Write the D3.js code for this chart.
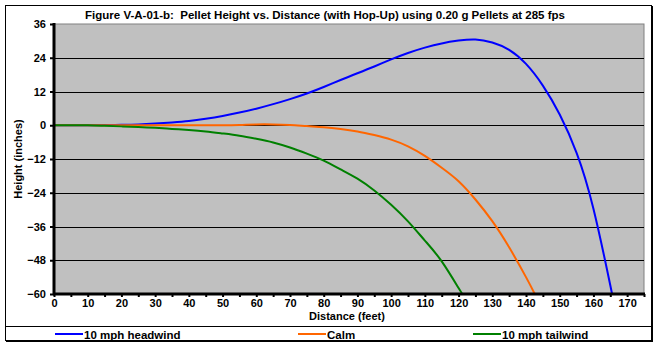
<!DOCTYPE html>
<html><head><meta charset="utf-8">
<script src="https://cdn.jsdelivr.net/npm/d3@7"></script>
<style>
html,body{margin:0;padding:0;background:#fff;}
svg{display:block;}
text{font-family:"Liberation Sans",Arial,sans-serif;font-weight:bold;fill:#000;white-space:pre;}
</style></head>
<body>
<script>
const title = "Figure V-A-01-b:  Pellet Height vs. Distance (with Hop-Up) using 0.20 g Pellets at 285 fps";
const xLabel = "Distance (feet)";
const yLabel = "Height (inches)";
const seriesNames = ["10 mph headwind", "Calm", "10 mph tailwind"];
const seriesColors = ["#0000FF", "#FF6600", "#008000"];
const xTicks = [0,10,20,30,40,50,60,70,80,90,100,110,120,130,140,150,160,170];
const yTicks = [-60,-48,-36,-24,-12,0,12,24,36];

const headwindDist   = [0,5,10,15,20,25,30,35,40,45,50,55,60,65,70,75,80,85,90,95,100,105,110,115,120,125,130,135,140,145,150,155,160,165,165.5];
const headwindHeight = [0,0,0,0.05,0.15,0.3,0.6,1.0,1.5,2.3,3.3,4.5,5.9,7.5,9.3,11.3,13.6,16.1,18.5,20.9,23.4,25.7,27.6,29.1,30.1,30.5,29.4,26.8,21.8,14.1,3.8,-9.8,-29.7,-56.9,-60];

const calmDist   = [0,5,10,15,20,25,30,35,40,45,50,55,60,65,70,75,80,85,90,95,100,105,110,115,120,125,130,135,140,142.6];
const calmHeight = [0,0,0,0,0,0,0,0,0,0,0,0.1,0.3,0.3,0.1,-0.3,-0.7,-1.3,-2.2,-3.5,-5.1,-7.5,-10.9,-15.1,-19.9,-26.4,-34.1,-43.4,-54.0,-60];

const tailwindDist   = [0,5,10,15,20,25,30,35,40,45,50,55,60,65,70,75,80,85,90,95,100,105,110,115,120,121.1];
const tailwindHeight = [0,0,0,-0.2,-0.4,-0.6,-0.9,-1.3,-1.7,-2.2,-2.9,-3.7,-4.8,-6.1,-7.9,-10.1,-12.6,-15.7,-19.0,-23.2,-28.3,-34.2,-41.0,-48.4,-57.9,-60];

const W = 659, H = 345;
const svg = d3.select("body").append("svg").attr("width", W).attr("height", H);

// outer frame
svg.append("rect").attr("x",5.5).attr("y",5.5).attr("width",646).attr("height",335)
  .attr("fill","#fff").attr("stroke","#000").attr("stroke-width",1);
svg.append("line").attr("x1",652.5).attr("x2",652.5).attr("y1",6).attr("y2",342).attr("stroke","#000").attr("stroke-width",1);
svg.append("line").attr("x1",6).attr("x2",653).attr("y1",341.5).attr("y2",341.5).attr("stroke","#000").attr("stroke-width",1);

const plot = {l:54, r:644, t:24, b:294};
const x = d3.scaleLinear().domain([0,175]).range([plot.l, plot.r]);
const y = d3.scaleLinear().domain([-60,36]).range([plot.b, plot.t]);

// plot background
svg.append("rect").attr("x",plot.l).attr("y",plot.t).attr("width",plot.r-plot.l).attr("height",plot.b-plot.t)
  .attr("fill","#C0C0C0").attr("stroke","#808080").attr("stroke-width",1);

// gridlines
svg.append("g").selectAll("line").data(yTicks.filter(v=>v>-60 && v<36)).join("line")
  .attr("x1",plot.l).attr("x2",plot.r)
  .attr("y1",d=>Math.round(y(d))+0.5).attr("y2",d=>Math.round(y(d))+0.5)
  .attr("stroke","#000").attr("stroke-width",1);

// series
const series = [
  {dist:headwindDist, h:headwindHeight},
  {dist:calmDist, h:calmHeight},
  {dist:tailwindDist, h:tailwindHeight}
];
const line = d3.line().x(d=>x(d[0])).y(d=>y(d[1])).curve(d3.curveNatural);
svg.append("clipPath").attr("id","pc").append("rect")
  .attr("x",plot.l).attr("y",plot.t).attr("width",plot.r-plot.l).attr("height",plot.b-plot.t+1);
series.forEach((s,i)=>{
  const pts = s.dist.map((d,j)=>[d, s.h[j]]);
  svg.append("path").datum(pts).attr("d",line).attr("fill","none")
    .attr("stroke",seriesColors[i]).attr("stroke-width",2).attr("clip-path","url(#pc)");
});

// axes
const xAxis = d3.axisBottom(x).tickValues(d3.range(0,176,5)).tickSize(3)
  .tickFormat(d=> xTicks.includes(d) ? d : "");
const gx = svg.append("g").attr("transform",`translate(0,${plot.b})`).call(xAxis);
gx.select(".domain").remove();
gx.selectAll(".tick line").attr("stroke","#000").attr("stroke-width",2);
gx.selectAll(".tick text").attr("font-size",11).attr("dy","0.95em").attr("y",3)
  .style("font-family","'Liberation Sans',Arial,sans-serif").style("font-weight","bold");
svg.append("line").attr("x1",plot.l-1).attr("x2",plot.r+1).attr("y1",plot.b).attr("y2",plot.b)
  .attr("stroke","#000").attr("stroke-width",3);

const yAxis = d3.axisLeft(y).tickValues(yTicks).tickSize(4).tickPadding(4);
const gy = svg.append("g").attr("transform",`translate(${plot.l},0)`).call(yAxis);
gy.select(".domain").remove();
gy.selectAll(".tick line").attr("stroke","#000").attr("stroke-width",2);
gy.selectAll(".tick text").attr("font-size",11)
  .style("font-family","'Liberation Sans',Arial,sans-serif").style("font-weight","bold");
svg.append("line").attr("x1",plot.l).attr("x2",plot.l).attr("y1",plot.t-1).attr("y2",plot.b+1)
  .attr("stroke","#000").attr("stroke-width",3);

// titles
svg.append("text").attr("x",325).attr("y",19).attr("text-anchor","middle").attr("font-size",11.5).text(title);
svg.append("text").attr("x",347).attr("y",320).attr("text-anchor","middle").attr("font-size",11).text(xLabel);
svg.append("text").attr("transform",`translate(22,159) rotate(-90)`).attr("text-anchor","middle").attr("font-size",11).text(yLabel);

// legend
svg.append("line").attr("x1",5).attr("x2",652).attr("y1",326.5).attr("y2",326.5).attr("stroke","#000").attr("stroke-width",1);
const legendX = [55, 298, 473];
seriesNames.forEach((n,i)=>{
  svg.append("line").attr("x1",legendX[i]).attr("x2",legendX[i]+28).attr("y1",334).attr("y2",334)
    .attr("stroke",seriesColors[i]).attr("stroke-width",2);
  svg.append("text").attr("x",legendX[i]+29).attr("y",338.5).attr("font-size",11.5).text(n);
});
</script>
</body></html>
